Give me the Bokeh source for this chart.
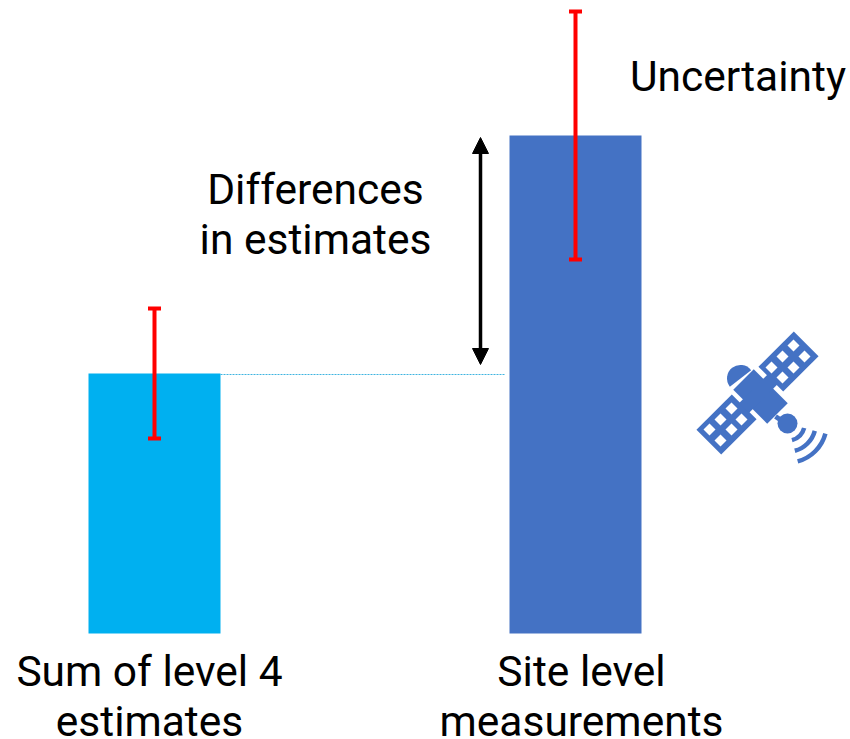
from math import radians
from bokeh.plotting import figure
from bokeh.models import Range1d, Arrow, NormalHead
from bokeh.core.properties import value
from bokeh.embed import file_html
from bokeh.resources import INLINE

# ---- data (1 unit = 1 screen pixel; y value 0 is the common bar baseline) ----
categories = ["Sum of level 4 estimates", "Site level measurements"]
bar_x = [154, 575]
bar_values = [260, 498]
err_low = [195, 374]
err_high = [325, 622]
diff_x = [480]
diff_low = [269]
diff_high = [496]
ref_x = [220, 505]
ref_y = [259, 259]

label_lines = ["Sum of level 4", "estimates", "Site level", "measurements",
               "Differences", "in estimates", "Uncertainty"]
label_x = [149, 149, 581, 581, 315, 315, 737.5]
label_y = [-38, -88, -38, -88, 444, 394, 557]

BLUE = "#4472C4"
CYAN = "#00B0F0"
RED = "#FF0000"
FONT = value("Roboto")

W, H = 850, 739
p = figure(width=W, height=H, output_backend="svg", toolbar_location=None,
           x_range=Range1d(0, W), y_range=Range1d(633 - H, 633),
           min_border=0, outline_line_color=None)
p.xaxis.visible = False
p.yaxis.visible = False
p.grid.visible = False

# bars
p.vbar(x=bar_x, bottom=0, top=bar_values, width=132,
       fill_color=[CYAN, BLUE], line_color=None)

# reference dotted line
p.line(ref_x, ref_y, line_color="#3FB4E0", line_width=1.2, line_dash="2 1")

# error bars
p.segment(x0=bar_x, x1=bar_x, y0=err_low, y1=err_high, line_color=RED, line_width=4)
for ys in (err_low, err_high):
    p.rect(x=bar_x, y=ys, width=13, height=4, fill_color=RED, line_color=None)

# difference arrow
p.add_layout(Arrow(
    start=NormalHead(size=16, fill_color="black", line_color="black", line_width=1),
    end=NormalHead(size=16, fill_color="black", line_color="black", line_width=1),
    x_start=diff_x[0], y_start=diff_low[0], x_end=diff_x[0], y_end=diff_high[0],
    line_color="black", line_width=3.5))

# labels
p.text(x=label_x, y=label_y, text=label_lines, text_font=FONT, text_font_size="42.5px",
       text_color="black", text_align="center", text_baseline="alphabetic")

# satellite icon: panels, body, dish, antenna
def Y(py):
    return 633 - py
a45 = radians(45)
p.rect(x=[788, 726], y=[Y(361), Y(424)], width=50, height=35, angle=a45,
       fill_color=BLUE, line_color=None)
p.rect(x=[760], y=[Y(396)], width=48, height=29, angle=-a45,
       fill_color=BLUE, line_color=None)
p.rect(x=[758], y=[Y(393)], width=42, height=14, angle=a45,
       fill_color=BLUE, line_color=None)
win_x = [793, 782, 771, 804, 793, 782, 731, 720, 709, 741, 731, 720]
win_y = [345, 356, 367, 356, 367, 377, 408, 419, 429, 419, 429, 440]
p.rect(x=win_x, y=[Y(v) for v in win_y], width=8.5, height=8.5, angle=a45,
       fill_color="white", line_color=None)
p.wedge(x=[740], y=[Y(378)], radius=13.5, start_angle=radians(38), end_angle=radians(218),
        fill_color=BLUE, line_color=None)
p.line([775, 787], [Y(416), Y(424)], line_color=BLUE, line_width=5)
p.circle(x=[787], y=[Y(423)], radius=10, fill_color=BLUE, line_color=None)
p.annular_wedge(x=[787] * 3, y=[Y(423)] * 3, inner_radius=[15, 26, 37], outer_radius=[19.5, 30.5, 41.5],
                start_angle=radians(-75), end_angle=radians(-15),
                fill_color=BLUE, line_color=None)

open("out.html", "w").write(file_html(p, INLINE))
